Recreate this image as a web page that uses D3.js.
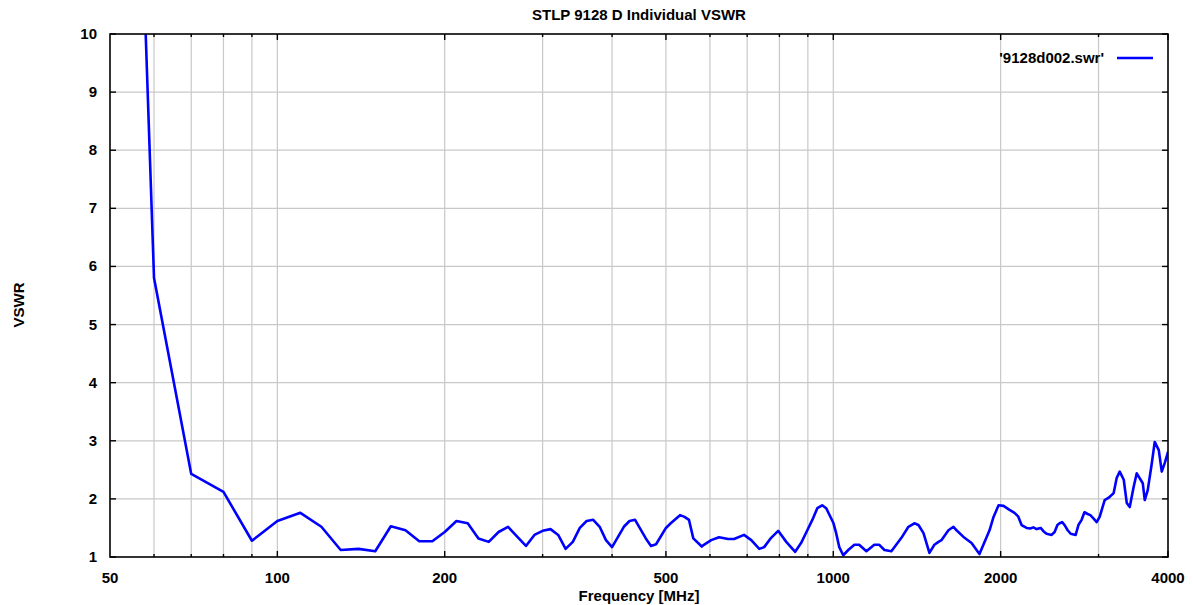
<!DOCTYPE html>
<html><head><meta charset="utf-8">
<script src="https://cdn.jsdelivr.net/npm/d3@7"></script>
<style>
html,body{margin:0;padding:0;background:#fff;}
text{font-family:"Liberation Sans",Arial,sans-serif;font-weight:bold;fill:#000;}
</style></head>
<body>
<svg id="chart" width="1193" height="605"></svg>
<script>
const freq = [50,60,70,80,90,100,110,120,130,140,150,160,170,180,190,200,210,220,230,240,250,260,270,280,290,300,310,320,330,340,350,360,370,380,390,400,420,430,440,460,470,480,500,510,530,540,550,560,580,585,603,623,647,663,691,712,736,751,773,796,823,854,875,898,920,936,955,971,1000,1012,1025,1042,1064,1091,1113,1147,1185,1210,1236,1272,1326,1365,1399,1423,1453,1489,1520,1546,1565,1611,1645,1666,1722,1773,1832,1871,1910,1942,1983,2024,2075,2118,2150,2181,2227,2260,2290,2322,2360,2390,2419,2470,2501,2530,2553,2580,2607,2640,2673,2729,2760,2797,2830,2868,2900,2940,2977,3014,3077,3129,3194,3234,3275,3330,3372,3414,3470,3514,3603,3633,3678,3740,3786,3850,3898,3947,3996,4000];
const vswr = [28,5.8,2.43,2.12,1.28,1.62,1.76,1.52,1.12,1.14,1.10,1.53,1.46,1.27,1.27,1.43,1.62,1.58,1.32,1.26,1.43,1.52,1.35,1.19,1.38,1.45,1.48,1.38,1.14,1.26,1.50,1.62,1.64,1.52,1.29,1.17,1.52,1.62,1.64,1.32,1.19,1.22,1.50,1.58,1.72,1.69,1.64,1.32,1.18,1.21,1.29,1.34,1.31,1.31,1.38,1.29,1.14,1.17,1.33,1.45,1.26,1.09,1.24,1.46,1.67,1.84,1.89,1.84,1.59,1.41,1.17,1.03,1.12,1.21,1.21,1.10,1.21,1.21,1.12,1.10,1.33,1.52,1.58,1.55,1.41,1.07,1.21,1.26,1.29,1.46,1.52,1.46,1.33,1.24,1.05,1.26,1.46,1.69,1.89,1.88,1.81,1.76,1.70,1.55,1.50,1.49,1.51,1.48,1.50,1.44,1.40,1.38,1.43,1.55,1.58,1.60,1.55,1.46,1.40,1.38,1.55,1.64,1.77,1.74,1.72,1.66,1.60,1.69,1.98,2.02,2.10,2.36,2.47,2.33,1.93,1.86,2.21,2.44,2.27,1.98,2.15,2.61,2.98,2.84,2.47,2.62,2.79,2.81,2.76];
const gridFreqs = [60,70,80,90,100,200,300,400,500,600,700,800,900,1000,2000,3000,4000];
const xTickLabels = [50,100,200,500,1000,2000,4000];
const yTicks = [1,2,3,4,5,6,7,8,9,10];
const title = "STLP 9128 D Individual VSWR";
const xTitle = "Frequency [MHz]";
const yTitle = "VSWR";
const seriesName = "'9128d002.swr'";

const m = {left:110, right:1168, top:34, bottom:557};
const svg = d3.select("#chart");
const x = d3.scaleLog().domain([50,4000]).range([m.left, m.right]);
const y = d3.scaleLinear().domain([1,10]).range([m.bottom, m.top]);

// grid
svg.append("g").selectAll("line").data(gridFreqs.filter(f=>f<4000)).join("line")
  .attr("x1",d=>x(d)).attr("x2",d=>x(d)).attr("y1",m.top).attr("y2",m.bottom)
  .attr("stroke","#c8c8c8").attr("stroke-width",1.2);
svg.append("g").selectAll("line").data(yTicks.filter(v=>v>1&&v<10)).join("line")
  .attr("x1",m.left).attr("x2",m.right).attr("y1",d=>y(d)).attr("y2",d=>y(d))
  .attr("stroke","#c8c8c8").attr("stroke-width",1.2);

// curve
svg.append("clipPath").attr("id","clip").append("rect")
  .attr("x",m.left).attr("y",m.top).attr("width",m.right-m.left).attr("height",m.bottom-m.top);
const data = freq.map((f,i)=>[f,vswr[i]]);
svg.append("path").datum(data).attr("clip-path","url(#clip)")
  .attr("fill","none").attr("stroke","#0000ff").attr("stroke-width",2.6)
  .attr("stroke-linejoin","round")
  .attr("d", d3.line().x(d=>x(d[0])).y(d=>y(d[1])));

// frame and inward ticks
const major = new Set(xTickLabels);
svg.append("rect").attr("x",m.left).attr("y",m.top).attr("width",m.right-m.left).attr("height",m.bottom-m.top)
  .attr("fill","none").attr("stroke","#000").attr("stroke-width",1.6);
const tg = svg.append("g").attr("stroke","#000").attr("stroke-width",1.4);
gridFreqs.forEach(f=>{
  const L = major.has(f)?6:3;
  tg.append("line").attr("x1",x(f)).attr("x2",x(f)).attr("y1",m.bottom).attr("y2",m.bottom-L);
  tg.append("line").attr("x1",x(f)).attr("x2",x(f)).attr("y1",m.top).attr("y2",m.top+L);
});
yTicks.forEach(v=>{
  tg.append("line").attr("x1",m.left).attr("x2",m.left+6).attr("y1",y(v)).attr("y2",y(v));
  tg.append("line").attr("x1",m.right).attr("x2",m.right-6).attr("y1",y(v)).attr("y2",y(v));
});
// labels
svg.append("g").selectAll("text").data(xTickLabels).join("text")
  .attr("x",d=>x(d)).attr("y",583).attr("text-anchor","middle").attr("font-size",15).text(d=>d);
svg.append("g").selectAll("text").data(yTicks).join("text")
  .attr("x",97).attr("y",d=>y(d)+5).attr("text-anchor","end").attr("font-size",15).text(d=>d);
svg.append("text").attr("x",639).attr("y",20).attr("text-anchor","middle").attr("font-size",15).text(title);
svg.append("text").attr("x",639).attr("y",601).attr("text-anchor","middle").attr("font-size",15).text(xTitle);
svg.append("text").attr("transform","translate(24,305) rotate(-90)").attr("text-anchor","middle").attr("font-size",15).text(yTitle);
// legend
svg.append("text").attr("x",1104).attr("y",63).attr("text-anchor","end").attr("font-size",15).text(seriesName);
svg.append("line").attr("x1",1117).attr("x2",1153).attr("y1",58).attr("y2",58).attr("stroke","#0000ff").attr("stroke-width",2.6);
</script>
</body></html>
